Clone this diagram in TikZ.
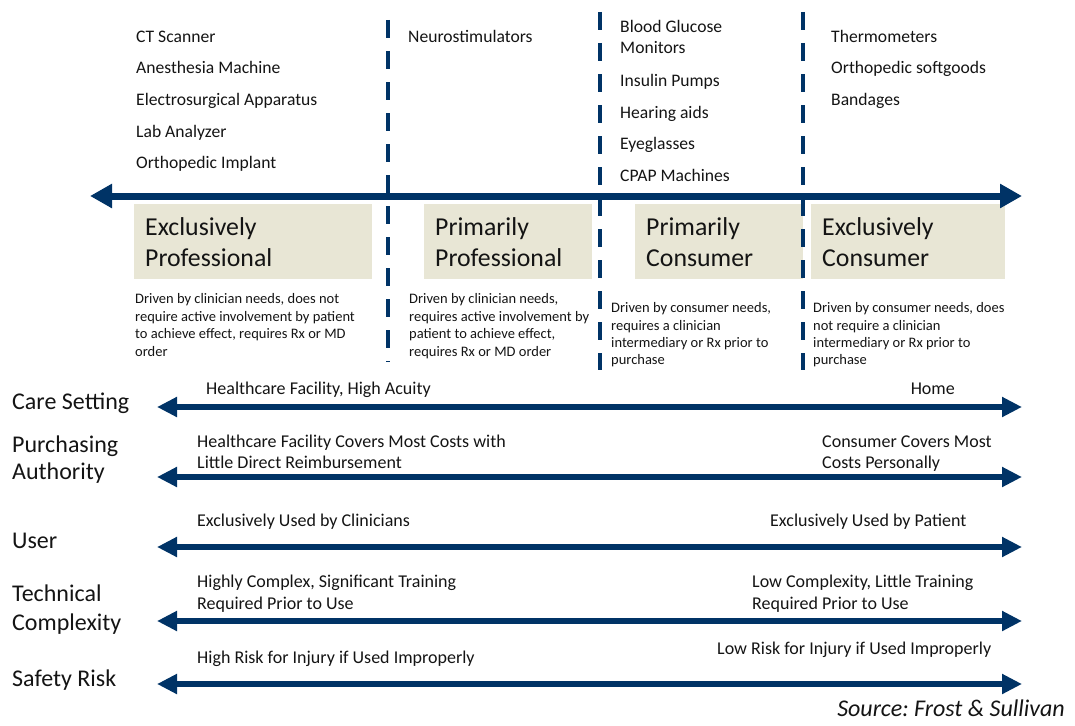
\documentclass[tikz,border=0pt]{standalone}
\usepackage{fontspec}
\setmainfont{Carlito}
\usetikzlibrary{arrows.meta}
\definecolor{navy}{RGB}{0,51,102}
\definecolor{khaki}{RGB}{232,230,213}
\definecolor{ink}{RGB}{20,20,20}
\frenchspacing

\begin{document}
\begin{tikzpicture}[x=1pt,y=-1pt,
  every node/.style={inner sep=0pt, text=ink},
  item/.style={anchor=base west, font=\fontsize{17.6}{20}\selectfont},
  desc/.style={anchor=base west, font=\fontsize{14.5}{17}\selectfont},
  cattitle/.style={anchor=base west, font=\fontsize{25.8}{30}\selectfont},
  catbox/.style={fill=khaki, anchor=north west, minimum height=75pt},
  rowlabel/.style={anchor=base west, font=\fontsize{24}{27}\selectfont},
  endlabel/.style={anchor=base west, font=\fontsize{18}{21}\selectfont},
  divider/.style={draw=navy, line width=4pt, dash pattern=on 18pt off 13pt},
  mainarrow/.style={draw=navy, line width=7pt,
    {Triangle[length=22pt 0 0,width=23pt 0 0]}-{Triangle[length=22pt 0 0,width=23pt 0 0]}},
  rowarrow/.style={draw=navy, line width=6pt,
    {Triangle[length=20pt 0 0,width=19pt 0 0]}-{Triangle[length=20pt 0 0,width=19pt 0 0]}}
]
\useasboundingbox (0,0) rectangle (1075,725);

% category boxes
\node[catbox, minimum width=238pt] (box1) at (134,204) {};
\node[catbox, minimum width=168pt] (box2) at (424,204) {};
\node[catbox, minimum width=168pt] (box3) at (635,204) {};
\node[catbox, minimum width=194pt] (box4) at (811,204) {};

% dashed dividers between the four categories
\coordinate (v1t) at (388,20);  \coordinate (v1b) at (388,362);
\coordinate (v2t) at (600,12);  \coordinate (v2b) at (600,370);
\coordinate (v3t) at (803,12);  \coordinate (v3b) at (803,370);
\draw[divider] (v1t) -- (v1b);
\draw[divider] (v2t) -- (v2b);
\draw[divider] (v3t) -- (v3b);

% spectrum axis
\coordinate (axL) at (90,196); \coordinate (axR) at (1022,196);
\draw[mainarrow] (axL) -- (axR);

% example devices per category
\foreach \t/\yy [count=\i] in {CT Scanner/42, Anesthesia Machine/74,
    Electrosurgical Apparatus/105, Lab Analyzer/137, Orthopedic Implant/168}
  \node[item] (ex1-\i) at (136,\yy) {\t};
\node[item] (ex2-1) at (408,42) {Neurostimulators};
\foreach \t/\yy [count=\i] in {Blood Glucose/33, Monitors/54, Insulin Pumps/86,
    Hearing aids/118, Eyeglasses/149, CPAP Machines/181}
  \node[item] (ex3-\i) at (620,\yy) {\t};
\foreach \t/\yy [count=\i] in {Thermometers/42, Orthopedic softgoods/74, Bandages/105}
  \node[item] (ex4-\i) at (831,\yy) {\t};

% category titles
\node[cattitle] (t1a) at (145,235) {Exclusively};
\node[cattitle] (t1b) at (145,266) {Professional};
\node[cattitle] (t2a) at (435,235) {Primarily};
\node[cattitle] (t2b) at (435,266) {Professional};
\node[cattitle] (t3a) at (646,235) {Primarily};
\node[cattitle] (t3b) at (646,266) {Consumer};
\node[cattitle] (t4a) at (822,235) {Exclusively};
\node[cattitle] (t4b) at (822,266) {Consumer};

% category descriptions
\foreach \t/\yy [count=\i] in {{Driven by clinician needs, does not}/303,
    {require active involvement by patient}/321,
    {to achieve effect, requires Rx or MD}/338, {order}/356}
  \node[desc] (d1-\i) at (135,\yy) {\t};
\foreach \t/\yy [count=\i] in {{Driven by clinician needs,}/303,
    {requires active involvement by}/321,
    {patient to achieve effect,}/338, {requires Rx or MD order}/356}
  \node[desc] (d2-\i) at (409,\yy) {\t};
\foreach \t/\yy [count=\i] in {{Driven by consumer needs,}/312,
    {requires a clinician}/330,
    {intermediary or Rx prior to}/347, {purchase}/364}
  \node[desc] (d3-\i) at (611,\yy) {\t};
\foreach \t/\yy [count=\i] in {{Driven by consumer needs, does}/312,
    {not require a clinician}/330,
    {intermediary or Rx prior to}/347, {purchase}/364}
  \node[desc] (d4-\i) at (813,\yy) {\t};

% dimension rows
\node[rowlabel] (r1) at (12,409) {Care Setting};
\node[rowlabel] (r2a) at (12,452) {Purchasing};
\node[rowlabel] (r2b) at (12,479) {Authority};
\node[rowlabel] (r3) at (12,548) {User};
\node[rowlabel] (r4a) at (12,601) {Technical};
\node[rowlabel] (r4b) at (12,630) {Complexity};
\node[rowlabel] (r5) at (12,686) {Safety Risk};

\foreach \n/\yy in {1/407, 2/477, 3/547, 4/621, 5/684} {
  \coordinate (a\n L) at (157,\yy);
  \coordinate (a\n R) at (1022,\yy);
  \draw[rowarrow] (a\n L) -- (a\n R);
}

% row end labels
\node[endlabel] (l1) at (206,394) {Healthcare Facility, High Acuity};
\node[endlabel, anchor=base east] (h1) at (955,394) {Home};
\node[endlabel] (l2a) at (197,447) {Healthcare Facility Covers Most Costs with};
\node[endlabel] (l2b) at (197,468) {Little Direct Reimbursement};
\node[endlabel] (h2a) at (822,447) {Consumer Covers Most};
\node[endlabel] (h2b) at (822,468) {Costs Personally};
\node[endlabel] (l3) at (197,526) {Exclusively Used by Clinicians};
\node[endlabel] (h3) at (770,526) {Exclusively Used by Patient};
\node[endlabel] (l4a) at (197,587) {Highly Complex, Significant Training};
\node[endlabel] (l4b) at (197,609) {Required Prior to Use};
\node[endlabel] (h4a) at (752,587) {Low Complexity, Little Training};
\node[endlabel] (h4b) at (752,609) {Required Prior to Use};
\node[endlabel] (l5) at (197,663) {High Risk for Injury if Used Improperly};
\node[endlabel] (h5) at (717,654) {Low Risk for Injury if Used Improperly};

% source line
\node[anchor=base east, font=\itshape\fontsize{24}{27}\selectfont] (src) at (1065,716)
  {Source: Frost \& Sullivan};
\end{tikzpicture}
\end{document}
